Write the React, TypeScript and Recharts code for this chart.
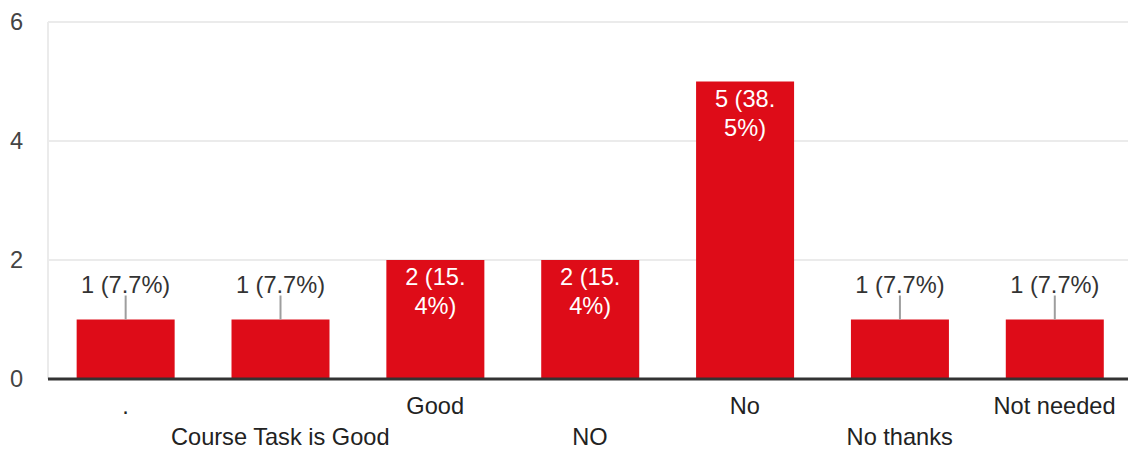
import React from "react";
import {
  BarChart,
  Bar,
  XAxis,
  YAxis,
  CartesianGrid,
  LabelList,
} from "recharts";

const categories = [".", "Course Task is Good", "Good", "NO", "No", "No thanks", "Not needed"];
const counts = [1, 1, 2, 2, 5, 1, 1];
const yTicks = [0, 2, 4, 6];
const minorTicks = [1, 3, 5];

const total = counts.reduce((a, b) => a + b, 0);
const data = categories.map((name, i) => ({ name, value: counts[i] }));

const FONT = "'Liberation Sans', Arial, sans-serif";
const FS = 23.6;
const BAR_COLOR = "#de0c18";

const YTick = (props: any) => {
  const { x, y, payload } = props;
  return (
    <text x={x} y={y} dy={8} textAnchor="end" fontFamily={FONT} fontSize={FS} fill="#444">
      {payload.value}
    </text>
  );
};

const XTick = (props: any) => {
  const { x, y, payload, index } = props;
  const row = index % 2 === 0 ? 0 : 1;
  return (
    <text x={x} y={y + 35 + row * 31} textAnchor="middle" fontFamily={FONT} fontSize={FS} fill="#222">
      {payload.value}
    </text>
  );
};

const BarLabel = (props: any) => {
  const { x, y, width, height, value } = props;
  const pct = ((value / total) * 100).toFixed(1);
  const cx = x + width / 2;
  if (height > 80) {
    const [intPart, decPart] = pct.split(".");
    const line1 = `${value} (${intPart}.`;
    const line2 = `${decPart}%)`;
    return (
      <g>
        <text x={cx} y={y + 25} textAnchor="middle" fontFamily={FONT} fontSize={FS} fill="#fff">
          {line1}
        </text>
        <text x={cx} y={y + 54} textAnchor="middle" fontFamily={FONT} fontSize={FS} fill="#fff">
          {line2}
        </text>
      </g>
    );
  }
  return (
    <g>
      <line x1={cx} x2={cx} y1={y - 24} y2={y} stroke="#9e9e9e" strokeWidth={2} />
      <text x={cx} y={y - 27} textAnchor="middle" fontFamily={FONT} fontSize={FS} fill="#333">
        {`${value} (${pct}%)`}
      </text>
    </g>
  );
};

export default function App() {
  return (
    <div style={{ position: "absolute", left: 0, top: 0, width: 1128, height: 452, background: "#fff", overflow: "hidden" }}>
      <BarChart
        width={1132}
        height={452}
        data={data}
        margin={{ top: 22, right: 0, bottom: 0, left: 0 }}
        barCategoryGap="18.5%"
      >
        <CartesianGrid vertical={false} yAxisId="minor" stroke="#f3f3f3" strokeWidth={2} />
        <CartesianGrid vertical={false} yAxisId="major" stroke="#ebebeb" strokeWidth={2} />
        <YAxis
          yAxisId="minor"
          domain={[0, 6]}
          ticks={minorTicks}
          width={0}
          hide
        />
        <YAxis
          yAxisId="major"
          domain={[0, 6]}
          ticks={yTicks}
          width={48}
          tickLine={false}
          axisLine={{ stroke: "#ebebeb", strokeWidth: 2 }}
          tickSize={0}
          tickMargin={25}
          tick={<YTick />}
          interval={0}
        />
        <XAxis
          dataKey="name"
          height={73}
          tickLine={false}
          axisLine={{ stroke: "#333", strokeWidth: 3 }}
          tickSize={0}
          tickMargin={0}
          tick={<XTick />}
          interval={0}
        />
        <Bar dataKey="value" yAxisId="major" fill={BAR_COLOR} isAnimationActive={false}>
          <LabelList dataKey="value" content={<BarLabel />} />
        </Bar>
      </BarChart>
    </div>
  );
}
